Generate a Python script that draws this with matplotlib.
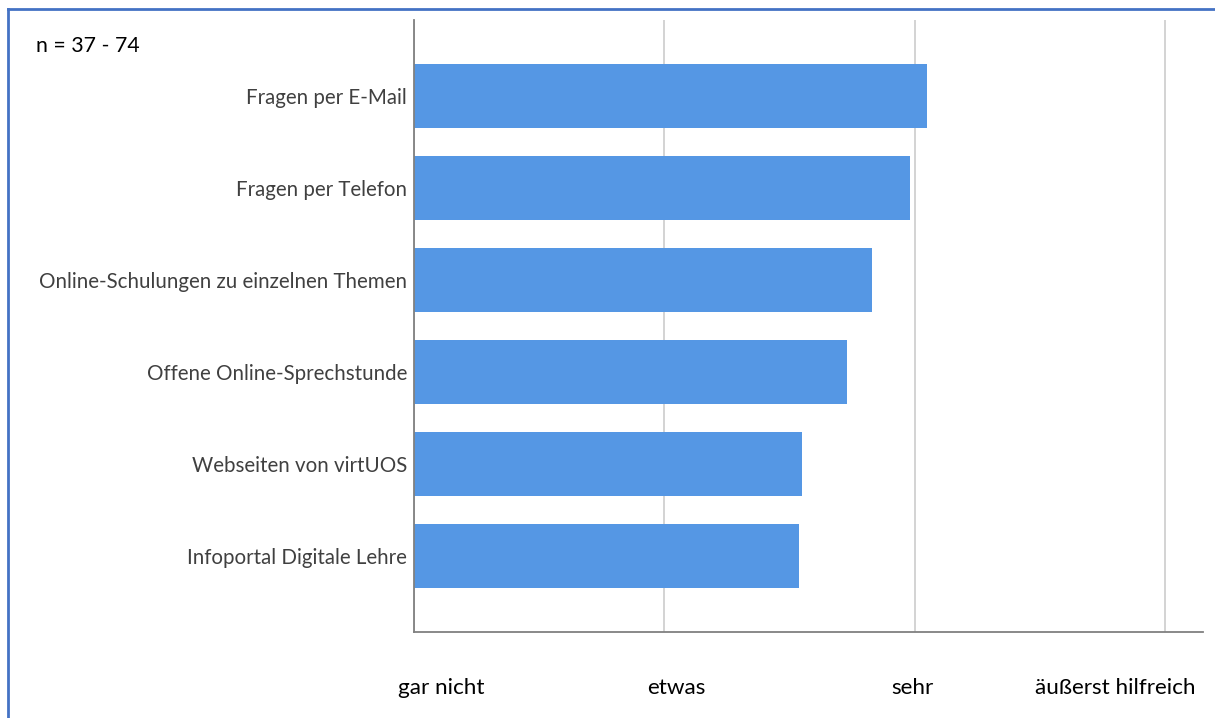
import matplotlib.pyplot as plt
from matplotlib.lines import Line2D

categories = [
    "Fragen per E-Mail",
    "Fragen per Telefon",
    "Online-Schulungen zu einzelnen Themen",
    "Offene Online-Sprechstunde",
    "Webseiten von virtUOS",
    "Infoportal Digitale Lehre",
]
values = [3.05, 2.98, 2.83, 2.73, 2.55, 2.54]
scale_labels = ["gar nicht", "etwas", "sehr", "äußerst hilfreich"]
scale_ticks = [1, 2, 3, 4]
note = "n = 37 - 74"

plt.rcParams["font.family"] = ["Lato", "DejaVu Sans"]

fig = plt.figure(figsize=(12.15, 7.18), dpi=100)
ax = fig.add_axes([414 / 1215, 1 - 632 / 718, (1203 - 414) / 1215, (632 - 20) / 718])

y = list(range(len(categories)))
# bars start at "gar nicht" (1)
ax.barh(y, [v - 1 for v in values], left=1, height=0.7, color="#5597E4")

ax.set_xlim(1, 4.152)
ax.set_ylim(len(categories) - 1 + 0.826, -0.826)

ax.set_yticks(y)
ax.set_yticklabels(categories, fontsize=14.8, color="#404040")
ax.tick_params(axis="y", length=0, pad=5)

ax.set_xticks(scale_ticks)
ax.set_xticklabels([])
ax.tick_params(axis="x", length=0)
ax.grid(axis="x", color="#d0d0d0", linewidth=1.3)
ax.set_axisbelow(True)

for side in ["top", "right"]:
    ax.spines[side].set_visible(False)
for side in ["left", "bottom"]:
    ax.spines[side].set_color("#808080")
    ax.spines[side].set_linewidth(1.3)

# scale labels sit under the axis, not centred on the gridlines
label_px = [441, 676, 912, 1115]
for px, lab in zip(label_px, scale_labels):
    fig.text(px / 1215, 1 - 688 / 718, lab, ha="center", va="center", fontsize=16.2, color="black")

fig.text(36 / 1215, 1 - 46 / 718, note, ha="left", va="center", fontsize=15.3, color="black")

# frame lines on top and left
fig.add_artist(Line2D([8 / 1215, 1], [1 - 9 / 718, 1 - 9 / 718], color="#4472C4", linewidth=2))
fig.add_artist(Line2D([8 / 1215, 8 / 1215], [0, 1 - 9 / 718], color="#4472C4", linewidth=2))

fig.savefig("out.png", dpi=100)
